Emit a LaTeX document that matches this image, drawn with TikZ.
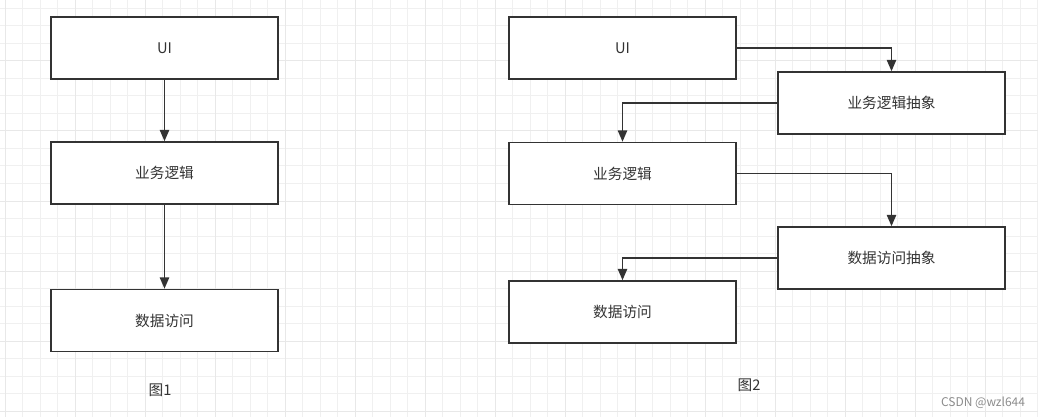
\documentclass[tikz,border=0pt]{standalone}
\usepackage{fontspec}
\setmainfont{Noto Sans CJK SC}
\usetikzlibrary{arrows.meta}

\begin{document}
\begin{tikzpicture}[x=0.75pt, y=-0.75pt,
  layer/.style = {shape=rectangle, draw=black!80, line width=1.2pt,
    fill=white, minimum width=170pt, minimum height=46.5pt,
    text=black!80, font=\fontsize{11}{13}\selectfont},
  link/.style = {draw=black!80, line width=1.2pt,
    -{Triangle[length=8.5pt, width=7pt]}},
  caption/.style = {text=black!80, font=\fontsize{11}{13}\selectfont}]
  \useasboundingbox (0,0) rectangle (1038,417);
  \fill[white] (0,0) rectangle (1038,417);
  % grid
  \foreach \k in {0,...,59}
    \draw[black!6, line width=0.75pt] (5+17.5*\k,0) -- (5+17.5*\k,417);
  \foreach \k in {0,...,23}
    \draw[black!6, line width=0.75pt] (0,8.5+17.5*\k) -- (1038,8.5+17.5*\k);
  \foreach \k in {0,...,14}
    \draw[black!9, line width=0.75pt] (5+70*\k,0) -- (5+70*\k,417);
  \foreach \k in {0,...,5}
    \draw[black!9, line width=0.75pt] (0,61+70*\k) -- (1038,61+70*\k);

  % 图1
  \node[layer] (ui1) at (164.5,48) {UI};
  \node[layer] (bl1) at (164.5,173) {业务逻辑};
  \node[layer] (da1) at (164.5,320.5) {数据访问};
  \draw[link] (ui1) -- (bl1);
  \draw[link] (bl1) -- (da1);
  \node[caption] (cap1) at (160,390) {图1};

  % 图2
  \node[layer] (ui2) at (622.5,48) {UI};
  \node[layer] (bla) at (891.5,103) {业务逻辑抽象};
  \node[layer] (bl2) at (622.5,173.5) {业务逻辑};
  \node[layer] (daa) at (891.5,258) {数据访问抽象};
  \node[layer] (da2) at (622.5,312) {数据访问};
  \draw[link] (ui2.east) -| (bla.north);
  \draw[link] (bla.west) -| (bl2.north);
  \draw[link] (bl2.east) -| (daa.north);
  \draw[link] (daa.west) -| (da2.north);
  \node[caption] (cap2) at (749,385) {图2};

  \node[text=black!45, font=\fontsize{9}{10}\selectfont] (mark) at (983,403) {CSDN @wzl644};
\end{tikzpicture}
\end{document}
